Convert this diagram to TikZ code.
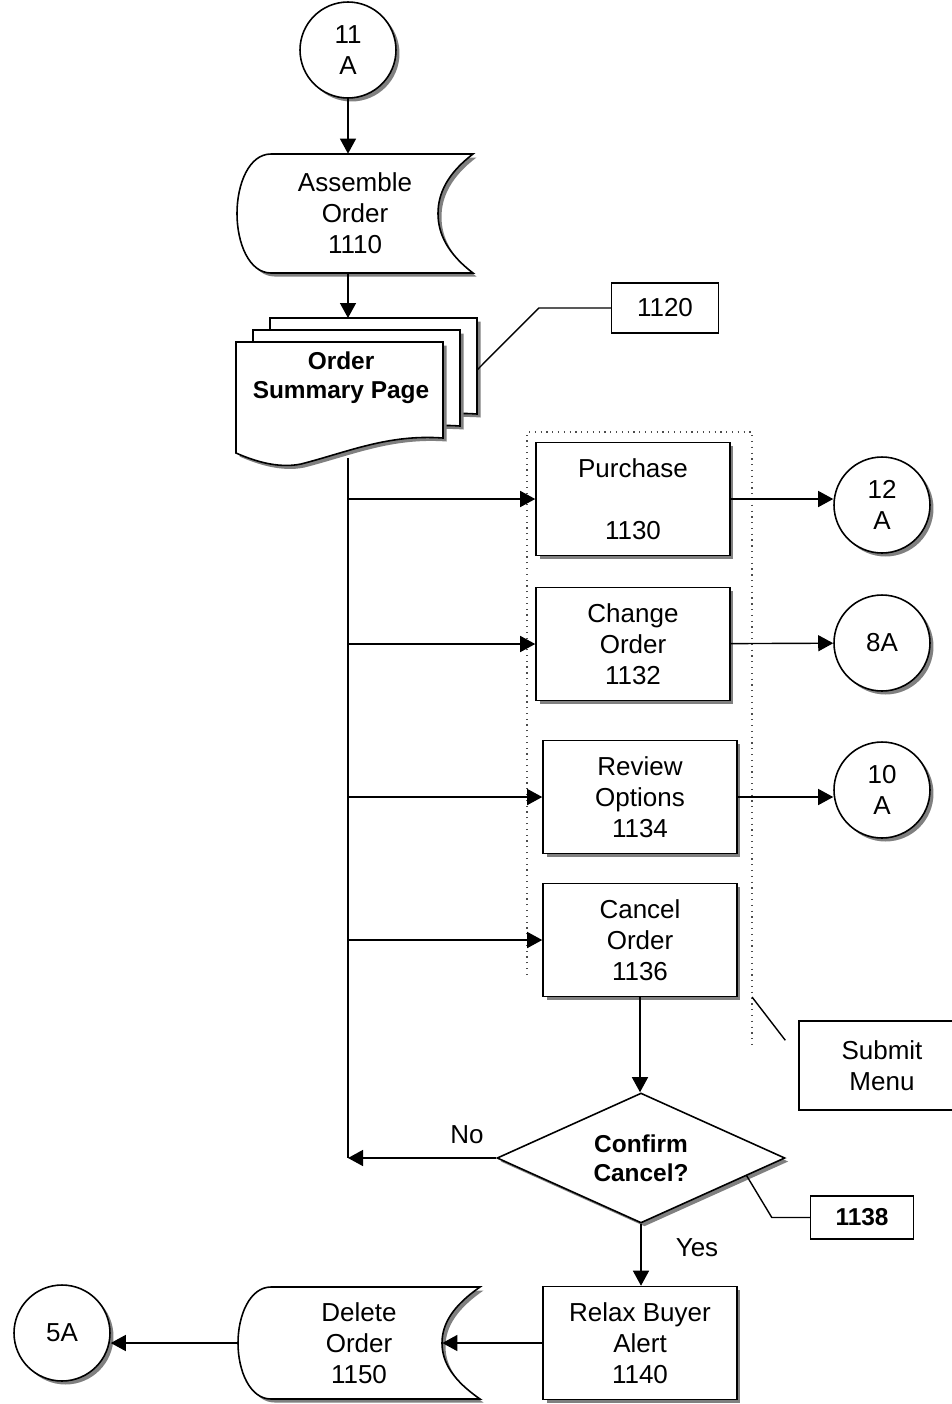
\documentclass[tikz,border=0pt]{standalone}
\usepackage{fontspec}
\setmainfont{Liberation Sans}
\usetikzlibrary{arrows.meta,positioning,shapes.geometric,shadows,calc}

\begin{document}
\begin{tikzpicture}[
  x=0.02cm, y=-0.02cm,
  txt/.style={font=\fontsize{14.8}{17.6}\selectfont, align=center},
  boldtxt/.style={font=\bfseries\fontsize{13.9}{16.5}\selectfont, align=center},
  shd/.style={drop shadow={shadow xshift=0.07cm, shadow yshift=-0.07cm, fill=black!50, opacity=1}},
  box/.style={txt, draw, fill=white, line width=0.9pt, shd, minimum width=3.88cm, minimum height=2.26cm, inner sep=0},
  conn/.style={txt, circle, draw, fill=white, line width=0.9pt, shd, minimum size=1.92cm, inner sep=0},
  outline/.style={draw, fill=white, line width=0.9pt, shd},
  tagbox/.style={draw, fill=white, line width=0.8pt, inner sep=0},
  ln/.style={line width=0.8pt},
  arr/.style={-{Triangle[length=0.3cm, width=0.32cm]}, line width=0.8pt},
  menuframe/.style={draw=black!70, line width=0.7pt, dash pattern=on 0.7pt off 2.6pt}
]
\useasboundingbox (0,0) rectangle (952,1404);

\draw[menuframe] (527,975) -- (527,432) -- (752,432) -- (752,1045);
\coordinate (menu-corner) at (752,997);

% stored data shapes
\draw[outline, shift={(237,154)}] (236,0) -- (34,0) .. controls (12,0) and (0,30) .. (0,59.5)
  .. controls (0,89) and (12,119) .. (34,119) -- (236,119)
  .. controls (211,100) and (201,80) .. (201,59.5) .. controls (201,39) and (211,19) .. (236,0) -- cycle;
\node[txt, minimum width=4.72cm, minimum height=2.38cm] (asm) at (355,213.5) {Assemble\\Order\\1110};

\draw[outline, shift={(238,1287)}] (242,0) -- (33,0) .. controls (12,0) and (0,28) .. (0,56)
  .. controls (0,84) and (12,112) .. (33,112) -- (242,112)
  .. controls (216,94) and (204,76) .. (204,56) .. controls (204,36) and (216,18) .. (242,0) -- cycle;
\node[txt, minimum width=4.84cm, minimum height=2.24cm] (del) at (359,1343) {Delete\\Order\\1150};

% page stack
\draw[outline, shift={(270,318)}] (0,0) -- (207,0) -- (207,96) .. controls (152,92) and (112,110) .. (65,122)
  .. controls (41,127) and (16,118) .. (0,111) -- cycle;
\draw[outline, shift={(253,330)}] (0,0) -- (207,0) -- (207,96) .. controls (152,92) and (112,110) .. (65,122)
  .. controls (41,127) and (16,118) .. (0,111) -- cycle;
\draw[outline, shift={(236,342)}] (0,0) -- (207,0) -- (207,96) .. controls (152,92) and (112,110) .. (65,122)
  .. controls (41,127) and (16,118) .. (0,111) -- cycle;
\coordinate (stack-top) at (348,318);
\coordinate (stack-bot) at (348,458);
\coordinate (stack-edge) at (477,370);
\node[boldtxt] (osp) at (341,378) {Order\\Summary Page};

\node[box] (pur) at (633,499) {Purchase\\\mbox{}\\1130};
\node[box] (chg) at (633,644) {Change\\Order\\1132};
\node[box] (rev) at (640,797) {Review\\Options\\1134};
\node[box] (cnc) at (640,940) {Cancel\\Order\\1136};
\node[box] (rba) at (640,1343) {Relax Buyer\\Alert\\1140};

\node[conn] (c11) at (348,50) {11\\A};
\node[conn] (c12) at (882,505) {12\\A};
\node[conn] (c8) at (882,643) {8A};
\node[conn] (c10) at (882,790) {10\\A};
\node[conn] (c5) at (62,1333) {5A};

\node[boldtxt, diamond, draw, fill=white, line width=0.9pt, shd, aspect=2.2, minimum width=5.76cm, minimum height=2.6cm, inner sep=0] (conf) at (641,1158) {Confirm\\Cancel?};

\node[tagbox, txt, minimum width=2.14cm, minimum height=1cm] (t1120) at (665,308) {1120};
\node[tagbox, txt, minimum width=3.32cm, minimum height=1.78cm] (menu) at (882,1065.5) {Submit\\Menu};
\node[tagbox, boldtxt, minimum width=2.06cm, minimum height=0.86cm] (t1138) at (862,1217.5) {1138};
\node[txt] (no) at (467,1135) {No};
\node[txt] (yes) at (697,1248) {Yes};

\draw[arr] (c11) -- (c11 |- asm.north);
\draw[arr] (stack-top |- asm.south) -- (stack-top);
\draw[ln] (stack-bot) -- (stack-bot |- conf.west);
\draw[arr] (stack-bot |- pur.west) -- (pur.west);
\draw[arr] (stack-bot |- chg.west) -- (chg.west);
\draw[arr] (stack-bot |- rev.west) -- (rev.west);
\draw[arr] (stack-bot |- cnc.west) -- (cnc.west);
\draw[arr] (pur.east) -- (pur.east -| c12.west);
\draw[arr] (chg) -- (c8);
\draw[arr] (rev.east) -- (rev.east -| c10.west);
\draw[arr] (cnc) -- (cnc |- conf.north);
\draw[arr] (conf.west) -- (conf.west -| stack-bot);
\draw[arr] (conf.south) -- (conf.south |- rba.north);
\draw[arr] (rba.west) -- ([xshift=-0.76cm]del.east);
\draw[arr] (del.west) -- (del.west -| c5.east);
\draw[ln] (t1120.west) -- ++(-72,0) -- (stack-edge);
\draw[ln] (t1138.west) -- ++(-38,0) -- ($(conf.east)!0.27!(conf.south)$);
\draw[ln] (menu-corner) -- ([xshift=-0.26cm, yshift=-0.4cm]menu.north west);
\end{tikzpicture}
\end{document}
